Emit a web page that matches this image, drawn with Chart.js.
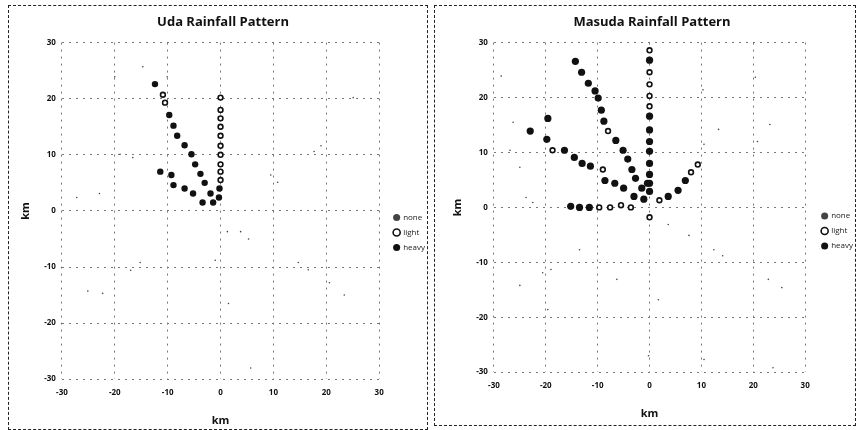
<!DOCTYPE html>
<html>
<head>
<meta charset="utf-8">
<script src="https://cdn.jsdelivr.net/npm/chart.js@4.4.0/dist/chart.umd.min.js"></script>
<style>
  body { margin: 0; background: #fff; width: 858px; height: 430px; position: relative; overflow: hidden; }
  .box { position: absolute; border: 1px dashed #222; box-sizing: border-box; }
  #b1 { left: 8px; top: 5px; width: 420px; height: 425px; }
  #b2 { left: 434px; top: 5px; width: 422px; height: 421px; }
  canvas { display: block; }
</style>
</head>
<body>
<div class="box" id="b1"><canvas id="uda"></canvas></div>
<div class="box" id="b2"><canvas id="masuda"></canvas></div>
<script>
// axis ticks (km)
const tickValues = [-30, -20, -10, 0, 10, 20, 30];
const seriesNames = ['none', 'light', 'heavy'];

// Uda rainfall pattern points [x, y] in km
const udaNone = [[-25.1, -14.3], [-22.3, -14.7], [-15.2, -9.2], [-17, -10.6], [1.3, -3.7], [3.8, -3.7], [5.3, -5],
  [14.7, -9.2], [16.6, -10.5], [20.6, -12.8], [23.4, -15], [5.7, -28], [-1, -8.8], [1.5, -16.5],
  [19, 11.6], [17.7, 10.6], [9.5, 6.4], [10.8, 5.1], [-27.2, 2.4], [-22.9, 3.1], [-14.7, 25.7],
  [-10.1, 23.9], [-20, 23.9], [-19, 10.1], [-16.6, 9.5], [25.1, 20.2]];
const udaLight = [[0, 20.2], [0, 18], [0, 16.5], [0, 15], [0, 13.4], [0, 11.6], [0, 10], [0, 8.3], [0, 7], [0, 5.5],
  [-10.9, 20.7], [-10.5, 19.3]];
const udaHeavy = [[-12.4, 22.6], [-9.7, 17.1], [-8.9, 15.2], [-8.2, 13.4], [-6.8, 11.7], [-5.5, 10.1], [-4.8, 8.3],
  [-3.8, 6.6], [-3, 5], [-1.9, 3.1], [-1.4, 1.5], [-11.4, 7], [-9.3, 6.4], [-8.9, 4.6], [-6.8, 4], [-5.2, 3.1],
  [-3.4, 1.5], [-0.3, 2.4], [-0.2, 4]];

// Masuda rainfall pattern points [x, y] in km
const masudaNone = [[-28.6, 23.9], [-26.3, 15.5], [-26.9, 10.4], [-25, 7.3], [-23.8, 1.8], [-22.5, 0.9], [13.3, 14.2],
  [10.3, 21.4], [10.5, 11.5], [20.4, 23.7], [23.2, 15.1], [20.8, 12], [-13.5, -7.7], [-19, -11.3], [-20.6, -11.9],
  [-25, -14.2], [-6.3, -13.1], [1.7, -16.8], [3.6, -3.1], [7.6, -5.1], [12.4, -7.7], [14.1, -8.8], [22.9, -13.1],
  [25.5, -14.6], [10.5, -27.7], [-0.2, -27], [-19.6, -18.6], [23.8, -29.2]];
const masudaLight = [[0, 28.6], [0, 24.6], [0, 22.4], [0, 20.3], [0, 18.4], [-8, 13.9], [-18.7, 10.4], [-9, 6.9],
  [-9.7, 0], [-7.6, 0], [-5.5, 0.4], [-3.6, 0], [1.9, 1.3], [8, 6.4], [9.3, 7.8], [0, -1.8]];
const masudaHeavy = [[0, 26.8], [0, 16.6], [0, 14.1], [0, 12], [0, 10.2], [0, 8], [0, 6], [0, 4.4], [0, 2.9],
  [-14.3, 26.6], [-13.1, 24.6], [-11.8, 22.6], [-10.5, 21.2], [-9.9, 19.9], [-9.3, 17.7], [-8.8, 15.7],
  [-6.5, 12.2], [-5.1, 10.4], [-4.2, 8.8], [-3.4, 6.9], [-2.7, 5.3], [-1.5, 3.5], [-0.4, 4.4],
  [-19.6, 16.2], [-23, 13.9], [-19.8, 12.4], [-16.4, 10.4], [-14.5, 9.1], [-13, 8], [-11.4, 7.5],
  [-8.6, 4.9], [-6.7, 4.4], [-5, 3.5], [-3, 2], [-1.1, 1.5],
  [-15.2, 0.2], [-13.5, 0], [-11.6, 0], [3.6, 2], [5.5, 3.1], [6.9, 4.9]];

const font = "'Open Sans', 'Liberation Sans', sans-serif";

function toPts(arr) { return arr.map(p => ({ x: p[0], y: p[1] })); }

// nudges the legend block after layout so it sits like the original
const legendNudge = {
  id: 'legendNudge',
  afterLayout(chart, args, opts) {
    const lg = chart.legend;
    if (!lg) return;
    lg.left += opts.dx; lg.right += opts.dx;
    lg.top += opts.dy; lg.bottom += opts.dy;
  }
};

function makeChart(id, title, none, light, heavy, w, h, pad, nudge, heavyR) {
  const cv = document.getElementById(id);
  cv.width = w; cv.height = h;
  const axis = (t, tp) => ({
    type: 'linear', min: -30, max: 30,
    afterBuildTicks: (s) => { s.ticks = tickValues.map(v => ({ value: v })); },
    ticks: { color: '#111', font: { family: font, size: 8, weight: 'bold' }, padding: tp },
    grid: { color: '#777', lineWidth: 1, drawTicks: false },
    border: { display: false, dash: [2, 5] },
    title: { display: true, text: 'km', color: '#111', font: { family: font, size: 11, weight: 'bold' }, padding: t }
  });
  return new Chart(cv, {
    type: 'scatter',
    plugins: [legendNudge],
    data: {
      datasets: [
        { label: seriesNames[0], data: toPts(none), pointRadius: 0.8, backgroundColor: '#444', borderColor: '#444', borderWidth: 0 },
        { label: seriesNames[1], data: toPts(light), pointRadius: 2.4, backgroundColor: '#fff', borderColor: '#111', borderWidth: 1.6 },
        { label: seriesNames[2], data: toPts(heavy), pointRadius: heavyR, backgroundColor: '#111', borderColor: '#111', borderWidth: 0 }
      ]
    },
    options: {
      responsive: false, animation: false,
      layout: { padding: pad },
      plugins: {
        legendNudge: nudge,
        title: { display: true, text: title, color: '#111', font: { family: font, size: 13, weight: 'bold' }, padding: { top: 4, bottom: 13 } },
        legend: {
          position: 'right',
          labels: { usePointStyle: true, boxWidth: 5, boxHeight: 5, padding: 7, color: '#222', font: { family: font, size: 8 } }
        },
        tooltip: { enabled: false }
      },
      scales: { x: axis({ top: 7, bottom: 0 }, 9), y: axis({ top: 0, bottom: 6 }, 6) }
    }
  });
}

makeChart('uda', 'Uda Rainfall Pattern', udaNone, udaLight, udaHeavy, 418, 423,
  { left: 10, right: 0, top: 4, bottom: 2 }, { dx: 8, dy: 14 }, 3.2);
makeChart('masuda', 'Masuda Rainfall Pattern', masudaNone, masudaLight, masudaHeavy, 420, 419,
  { left: 16, right: 2, top: 4, bottom: 5 }, { dx: 10, dy: 16 }, 3.6);
</script>
</body>
</html>
